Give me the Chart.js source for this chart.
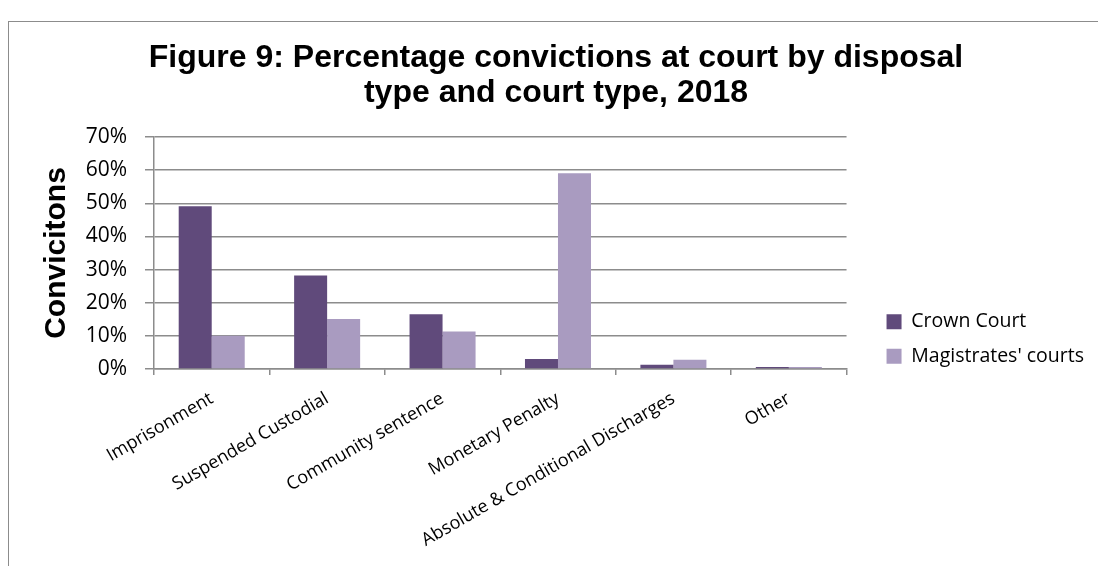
<!DOCTYPE html>
<html>
<head>
<meta charset="utf-8">
<script src="https://cdn.jsdelivr.net/npm/chart.js@4.4.1/dist/chart.umd.min.js"></script>
<style>
  html, body { margin: 0; padding: 0; background: #fff; overflow: hidden; }
  #frame { position: absolute; left: 8px; top: 21px; width: 1400px; height: 900px; border: 1.5px solid #8c8c8c; }
  #wrap { position: absolute; left: 0; top: 0; width: 1098px; height: 566px; }
</style>
</head>
<body>
<div id="frame"></div>
<div id="wrap"><canvas id="bar" width="1098" height="566"></canvas></div>
<script>
const disposals = ["Imprisonment", "Suspended Custodial", "Community sentence", "Monetary Penalty", "Absolute & Conditional Discharges", "Other"];
const crownCourt = [49.1, 28.2, 16.5, 3.0, 1.3, 0.6];
const magistratesCourts = [10.0, 15.1, 11.3, 59.1, 2.8, 0.6];
const yTickLabels = ["0%", "10%", "20%", "30%", "40%", "50%", "60%", "70%"];

const gridGrey = "#8c8c8c";

// widen the legend box so the plot stops short of it, then slide the items back right and down
const legendGap = {
    id: "legendGap",
    afterInit(chart) {
        const fit = chart.legend.fit;
        chart.legend.fit = function () {
            fit.call(this);
            this.width += 29;
        };
    },
    afterLayout(chart) {
        const lg = chart.legend;
        lg.left += 25;
        lg.top += 12;
        lg.bottom += 12;
    }
};

new Chart("bar", {
    type: "bar",
    data: {
        labels: disposals,
        datasets: [{
            label: "Crown Court",
            data: crownCourt,
            backgroundColor: "#604A7B",
        }, {
            label: "Magistrates' courts",
            data: magistratesCourts,
            backgroundColor: "#A99BC0",
        }]
    },
    options: {
        responsive: false,
        animation: false,
        layout: { padding: { left: 14, right: 0, top: 0, bottom: 0 } },
        datasets: { bar: { categoryPercentage: 0.572, barPercentage: 1 } },
        plugins: {
            title: {
                display: true,
                text: ["Figure 9: Percentage convictions at court by disposal", "type and court type, 2018"],
                color: "#000",
                font: { family: "'Liberation Sans', Arial", size: 32, weight: "bold", lineHeight: "35px" },
                padding: { top: 41, bottom: 26 }
            },
            legend: {
                position: "right",
                align: "end",
                fullSize: false,
                labels: {
                    boxWidth: 15,
                    boxHeight: 15,
                    padding: 15,
                    color: "#000",
                    font: { family: "'Open Sans'", size: 19.5 }
                }
            },
            tooltip: { enabled: false }
        },
        scales: {
            x: {
                afterFit: s => { s.height = 197; },
                grid: { drawOnChartArea: false, drawTicks: true, tickLength: 6, color: gridGrey, lineWidth: 1.5 },
                border: { color: gridGrey, width: 1.5 },
                ticks: {
                    minRotation: 30, maxRotation: 30, autoSkip: false, padding: 13,
                    color: "#000",
                    font: { family: "'Open Sans'", size: 18 }
                }
            },
            y: {
                min: 0, max: 70,
                afterFit: s => { s.width = 140; },
                grid: { color: gridGrey, lineWidth: 1.5, tickLength: 9 },
                border: { color: gridGrey, width: 1.5 },
                ticks: {
                    stepSize: 10, padding: 18, color: "#000",
                    font: { family: "'Open Sans'", size: 21 },
                    callback: (v) => yTickLabels[v / 10]
                },
                title: {
                    display: true,
                    text: "Convicitons",
                    color: "#000",
                    font: { family: "'Liberation Sans', Arial", size: 30, weight: "bold", lineHeight: 1.2 },
                    padding: { top: 25 }
                }
            }
        }
    },
    plugins: [legendGap]
})
</script>
</body>
</html>
